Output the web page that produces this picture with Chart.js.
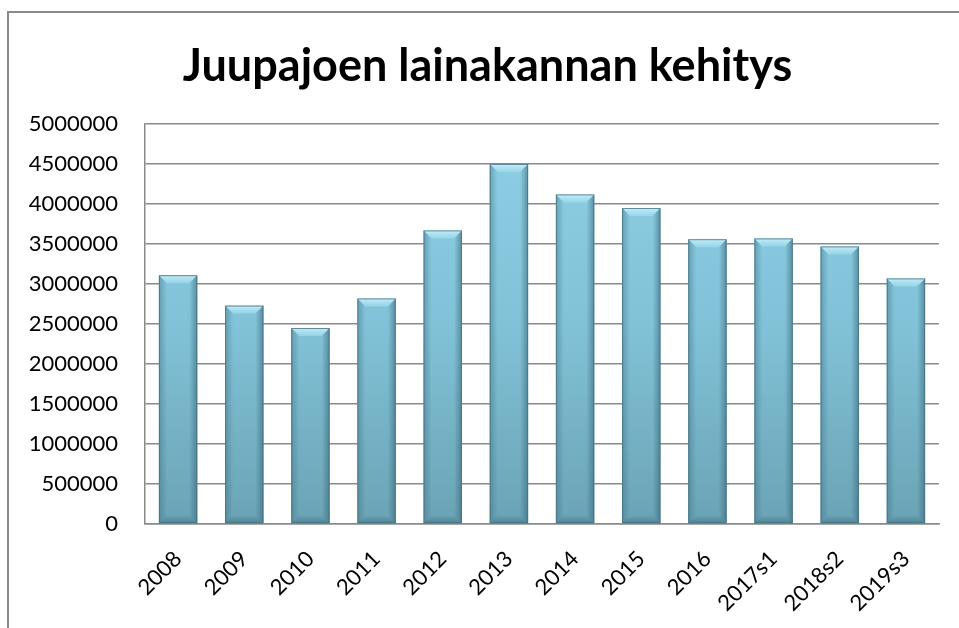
<!DOCTYPE html>
<html>
<head>
<meta charset="utf-8">
<script src="https://cdn.jsdelivr.net/npm/chart.js@4"></script>
<style>
    html, body { margin: 0; padding: 0; background: #fff; overflow: hidden; }
    #wrap { position: relative; width: 959px; height: 628px; }
    #frame {
        position: absolute; left: 7px; top: 11px; width: 1200px; height: 1200px;
        border-left: 2px solid #8a8a8a; border-top: 2px solid #8a8a8a;
        pointer-events: none;
    }
    canvas { position: absolute; left: 0; top: 0; }
</style>
</head>
<body>
<div id="wrap">
    <div id="frame"></div>
    <canvas id="chart" width="959" height="628"></canvas>
</div>
<script>
// Lainakanta vuosittain
const years = ['2008', '2009', '2010', '2011', '2012', '2013', '2014', '2015', '2016', '2017s1', '2018s2', '2019s3'];
const loanStock = [3110000, 2730000, 2450000, 2820000, 3670000, 4500000, 4120000, 3950000, 3560000, 3570000, 3470000, 3070000];
const yMin = 0;
const yMax = 5000000;
const yStep = 500000;

const gridColor = '#8a8a8a';

// Bar body gradient, light on top and darker towards the base
function barGradient(context) {
    const area = context.chart.chartArea;
    if (!area) return '#7fbdd2';
    const g = context.chart.ctx.createLinearGradient(0, area.top, 0, area.bottom);
    g.addColorStop(0, '#8fd0e6');
    g.addColorStop(0.5, '#82c2d8');
    g.addColorStop(1, '#6aa3b5');
    return g;
}

// Draws a bevel on each bar, using the bar elements placed by the scales
const bevelPlugin = {
    id: 'bevel',
    afterDatasetsDraw(chart) {
        const ctx = chart.ctx;
        const meta = chart.getDatasetMeta(0);
        const b = 8;
        meta.data.forEach(function (bar) {
            const left = bar.x - bar.width / 2;
            const right = bar.x + bar.width / 2;
            const top = bar.y;
            const base = bar.base;
            ctx.save();
            // top bevel
            let g = ctx.createLinearGradient(0, top, 0, top + b);
            g.addColorStop(0, 'rgba(205, 242, 252, 0.9)');
            g.addColorStop(1, 'rgba(160, 222, 240, 0.6)');
            ctx.beginPath();
            ctx.moveTo(left, top);
            ctx.lineTo(right, top);
            ctx.lineTo(right - b, top + b);
            ctx.lineTo(left + b, top + b);
            ctx.closePath();
            ctx.fillStyle = g;
            ctx.fill();
            // left edge
            g = ctx.createLinearGradient(left, 0, left + b, 0);
            g.addColorStop(0, 'rgba(60, 110, 128, 0.45)');
            g.addColorStop(1, 'rgba(60, 110, 128, 0)');
            ctx.fillStyle = g;
            ctx.beginPath();
            ctx.moveTo(left, top);
            ctx.lineTo(left + b, top + b);
            ctx.lineTo(left + b, base - b);
            ctx.lineTo(left, base);
            ctx.closePath();
            ctx.fill();
            // right edge
            g = ctx.createLinearGradient(right, 0, right - b, 0);
            g.addColorStop(0, 'rgba(50, 95, 112, 0.55)');
            g.addColorStop(1, 'rgba(50, 95, 112, 0)');
            ctx.fillStyle = g;
            ctx.beginPath();
            ctx.moveTo(right, top);
            ctx.lineTo(right - b, top + b);
            ctx.lineTo(right - b, base - b);
            ctx.lineTo(right, base);
            ctx.closePath();
            ctx.fill();
            // bottom edge
            g = ctx.createLinearGradient(0, base, 0, base - b);
            g.addColorStop(0, 'rgba(50, 95, 112, 0.5)');
            g.addColorStop(1, 'rgba(50, 95, 112, 0)');
            ctx.fillStyle = g;
            ctx.beginPath();
            ctx.moveTo(left, base);
            ctx.lineTo(left + b, base - b);
            ctx.lineTo(right - b, base - b);
            ctx.lineTo(right, base);
            ctx.closePath();
            ctx.fill();
            // outline
            ctx.strokeStyle = 'rgba(70, 115, 130, 0.8)';
            ctx.lineWidth = 1;
            ctx.strokeRect(left + 0.5, top + 0.5, bar.width - 1, base - top - 1);
            ctx.restore();
        });
    }
};

// Title sits a little right of the layout centre in the original
const titleShift = {
    id: 'titleShift',
    afterLayout(chart) {
        if (chart.titleBlock) {
            chart.titleBlock.left += 6;
            chart.titleBlock.right += 6;
        }
    }
};

const ctx = document.getElementById('chart').getContext('2d');
new Chart(ctx, {
    type: 'bar',
    data: {
        labels: years,
        datasets: [{
            label: 'Lainakanta',
            data: loanStock,
            backgroundColor: barGradient,
            borderWidth: 0,
            categoryPercentage: 1,
            barPercentage: 0.58
        }]
    },
    options: {
        responsive: false,
        animation: false,
        layout: {
            padding: { left: 24, right: 20, top: 12, bottom: 0 }
        },
        plugins: {
            legend: { display: false },
            tooltip: { enabled: false },
            title: {
                display: true,
                text: 'Juupajoen lainakannan kehitys',
                color: '#000',
                font: { family: 'Lato', size: 45, weight: 'bold', lineHeight: 1.2 },
                padding: { top: 27.5, bottom: 30.5 }
            }
        },
        scales: {
            x: {
                grid: { display: false, drawTicks: false },
                border: { display: true, color: gridColor, width: 1.5 },
                ticks: {
                    color: '#000',
                    font: { family: 'Lato', size: 22 },
                    maxRotation: 45,
                    minRotation: 45,
                    padding: 22,
                    autoSkip: false
                },
                afterFit(scale) { scale.height = 104; }
            },
            y: {
                min: yMin,
                max: yMax,
                grid: { color: gridColor, lineWidth: 1.5, drawTicks: false },
                border: { display: true, color: gridColor, width: 1.5 },
                ticks: {
                    stepSize: yStep,
                    color: '#000',
                    font: { family: 'Lato', size: 22 },
                    padding: 27,
                    callback: function (v) { return String(v); }
                },
                afterFit(scale) { scale.width = 121; }
            }
        }
    },
    plugins: [bevelPlugin, titleShift]
});
</script>
</body>
</html>
